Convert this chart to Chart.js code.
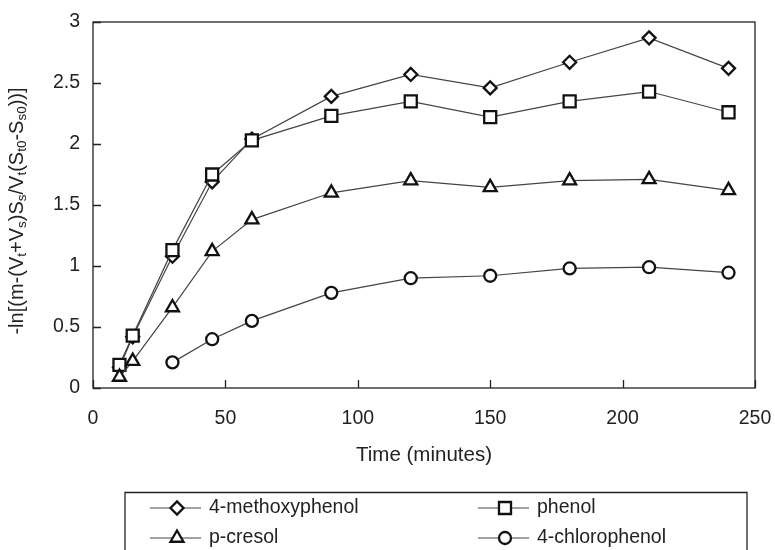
<!DOCTYPE html>
<html lang="en">
<head>
    <meta charset="utf-8">
    <title>Phenol uptake over time</title>
    <style>
        body { margin: 0; background: #fff; }
        #wrap { width: 775px; height: 550px; }
    </style>
</head>
<body>
    <div id="wrap">
        <canvas id="uptakeChart" width="775" height="550"></canvas>
    </div>

    <script src="https://cdn.jsdelivr.net/npm/chart.js"></script>
    <script>
        // sampling times (minutes)
        const timeMin = [10, 15, 30, 45, 60, 90, 120, 150, 180, 210, 240];

        // -ln[...] values for each compound
        const methoxyphenol = [0.17, 0.42, 1.08, 1.69, 2.04, 2.39, 2.57, 2.46, 2.67, 2.87, 2.62];
        const phenol        = [0.19, 0.43, 1.13, 1.75, 2.03, 2.23, 2.35, 2.22, 2.35, 2.43, 2.26];
        const pCresol       = [0.09, 0.22, 0.66, 1.12, 1.38, 1.60, 1.70, 1.645, 1.70, 1.71, 1.62];
        const chlorophenol  = [null, null, 0.21, 0.40, 0.55, 0.78, 0.90, 0.92, 0.98, 0.99, 0.945];

        const xTicks = [0, 50, 100, 150, 200, 250];
        const yTicks = [0, 0.5, 1, 1.5, 2, 2.5, 3];

        const FONT = '"Liberation Sans", Arial, sans-serif';
        const TEXT = '#222';

        function toPoints(vals) {
            return timeMin.map((t, i) => ({ x: t, y: vals[i] })).filter(p => p.y !== null);
        }

        function series(label, vals, style, radius, order) {
            return {
                label: label,
                data: toPoints(vals),
                borderColor: '#444',
                borderWidth: 1.2,
                pointStyle: style,
                pointRadius: radius,
                pointHoverRadius: radius,
                pointBorderWidth: 2.3,
                pointBorderColor: '#111',
                pointBackgroundColor: '#fff',
                tension: 0,
                fill: false,
                order: order
            };
        }

        const datasets = [
            series('4-methoxyphenol', methoxyphenol, 'rectRot', 6.5, 3),
            series('phenol', phenol, 'rect', 8.5, 2),
            series('p-cresol', pCresol, 'triangle', 7.5, 1),
            series('4-chlorophenol', chlorophenol, 'circle', 6, 0)
        ];

        // keep the plot box where it is, labels may hang over the edges
        function noScalePadding(s) {
            s.paddingLeft = 0;
            s.paddingRight = 0;
            s.paddingTop = 0;
            s.paddingBottom = 0;
        }

        // frame, inward tick marks, axis titles and the boxed legend
        const decorations = {
            id: 'decorations',
            afterDraw(chart) {
                const ctx = chart.ctx;
                const area = chart.chartArea;
                const xs = chart.scales.x;
                const ys = chart.scales.y;

                ctx.save();
                ctx.strokeStyle = '#222';
                ctx.lineWidth = 1.3;
                ctx.strokeRect(area.left, area.top, area.right - area.left, area.bottom - area.top);

                ctx.beginPath();
                xTicks.forEach(v => {
                    const px = Math.round(xs.getPixelForValue(v)) + 0.5;
                    ctx.moveTo(px, area.bottom);
                    ctx.lineTo(px, area.bottom - 8);
                });
                yTicks.forEach(v => {
                    const py = Math.round(ys.getPixelForValue(v)) + 0.5;
                    ctx.moveTo(area.left, py);
                    ctx.lineTo(area.left + 8, py);
                });
                ctx.stroke();

                // x title
                ctx.fillStyle = TEXT;
                ctx.font = '20.5px ' + FONT;
                ctx.textAlign = 'center';
                ctx.textBaseline = 'middle';
                ctx.fillText('Time (minutes)', (area.left + area.right) / 2, 455);

                // y title with subscripts, rotated
                const parts = [
                    ['-ln[(m-(V', 0], ['t', 1], ['+V', 0], ['s', 1], [')S', 0], ['s', 1],
                    ['/V', 0], ['t', 1], ['(S', 0], ['t0', 1], ['-S', 0], ['s0', 1], ['))]', 0]
                ];
                const mainFont = '20px ' + FONT;
                const subFont = '13.5px ' + FONT;
                let total = 0;
                parts.forEach(p => {
                    ctx.font = p[1] ? subFont : mainFont;
                    total += ctx.measureText(p[0]).width;
                });
                ctx.translate(17, 211);
                ctx.rotate(-Math.PI / 2);
                ctx.textAlign = 'left';
                ctx.textBaseline = 'middle';
                let cx = -total / 2;
                parts.forEach(p => {
                    ctx.font = p[1] ? subFont : mainFont;
                    ctx.fillText(p[0], cx, p[1] ? 5 : 0);
                    cx += ctx.measureText(p[0]).width;
                });
                ctx.restore();

                // legend box, open at the bottom edge of the canvas
                ctx.save();
                ctx.strokeStyle = '#222';
                ctx.lineWidth = 1.3;
                ctx.beginPath();
                ctx.moveTo(125, 560);
                ctx.lineTo(125, 492.5);
                ctx.lineTo(747, 492.5);
                ctx.lineTo(747, 560);
                ctx.stroke();

                const slots = [
                    { x: 177, y: 508 }, { x: 505, y: 508 },
                    { x: 177, y: 538 }, { x: 505, y: 538 }
                ];
                chart.data.datasets.forEach((ds, i) => {
                    const s = slots[i];
                    ctx.strokeStyle = ds.borderColor;
                    ctx.lineWidth = ds.borderWidth;
                    ctx.beginPath();
                    ctx.moveTo(s.x - 27, s.y);
                    ctx.lineTo(s.x + 24, s.y);
                    ctx.stroke();

                    ctx.fillStyle = ds.pointBackgroundColor;
                    ctx.strokeStyle = ds.pointBorderColor;
                    ctx.lineWidth = ds.pointBorderWidth;
                    Chart.helpers.drawPoint(ctx, {
                        pointStyle: ds.pointStyle,
                        radius: ds.pointRadius,
                        rotation: 0,
                        borderWidth: ds.pointBorderWidth
                    }, s.x, s.y);

                    ctx.fillStyle = TEXT;
                    ctx.font = '19.5px ' + FONT;
                    ctx.textAlign = 'left';
                    ctx.textBaseline = 'middle';
                    ctx.fillText(ds.label, s.x + 32, s.y);
                });
                ctx.restore();
            }
        };

        new Chart(document.getElementById('uptakeChart'), {
            type: 'line',
            data: { datasets: datasets },
            options: {
                responsive: false,
                animation: false,
                devicePixelRatio: 1,
                layout: { padding: { top: 22, right: 20, left: 0, bottom: 0 } },
                plugins: {
                    legend: { display: false },
                    tooltip: { enabled: false }
                },
                scales: {
                    x: {
                        type: 'linear',
                        min: 0,
                        max: 250,
                        afterFit: s => { s.height = 162; noScalePadding(s); },
                        afterBuildTicks: s => { s.ticks = xTicks.map(v => ({ value: v })); },
                        grid: { display: false, drawTicks: false },
                        border: { display: false },
                        ticks: {
                            color: TEXT,
                            font: { family: FONT, size: 19.5 },
                            padding: 19,
                            maxRotation: 0,
                            callback: v => String(v)
                        }
                    },
                    y: {
                        min: 0,
                        max: 3,
                        afterFit: s => { s.width = 93; noScalePadding(s); },
                        afterBuildTicks: s => { s.ticks = yTicks.map(v => ({ value: v })); },
                        grid: { display: false, drawTicks: false },
                        border: { display: false },
                        ticks: {
                            color: TEXT,
                            font: { family: FONT, size: 19.5 },
                            padding: 13,
                            callback: v => String(v)
                        }
                    }
                }
            },
            plugins: [decorations]
        });
    </script>
</body>
</html>
